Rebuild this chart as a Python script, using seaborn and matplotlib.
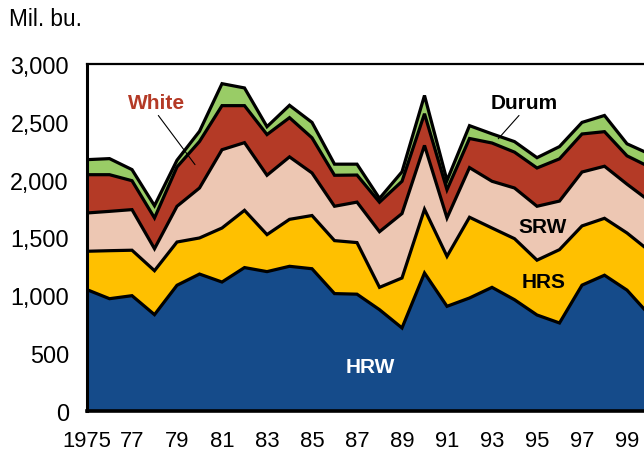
#!/usr/bin/env python3
"""Wheat production by class, stacked area"""

import numpy as np
import pandas as pd
import matplotlib
matplotlib.use('Agg')
import matplotlib.pyplot as plt
import seaborn as sns

# --------------------------------------------------
# data (million bushels)
years = list(range(1975, 2001))
hrw = [1049, 971, 997, 833, 1087, 1184, 1115, 1240, 1205, 1251, 1230, 1015, 1010,
       876, 718, 1193, 905, 977, 1069, 962, 830, 761, 1088, 1174, 1045, 830]
hrs = [332, 415, 393, 380, 374, 312, 467, 495, 320, 406, 460, 458, 446,
       193, 432, 551, 432, 698, 513, 528, 474, 634, 512, 492, 494, 553]
srw = [331, 340, 351, 190, 309, 432, 677, 585, 513, 540, 368, 297, 350,
       481, 557, 552, 332, 429, 404, 438, 466, 420, 466, 450, 422, 432]
white = [331, 317, 250, 266, 340, 402, 381, 320, 352, 339, 304, 268, 234,
         255, 279, 274, 244, 252, 331, 310, 331, 365, 329, 299, 245, 295]
durum = [130, 139, 96, 106, 58, 88, 190, 153, 68, 107, 133, 96, 94,
         33, 82, 158, 80, 111, 79, 91, 89, 106, 100, 140, 104, 112]

classes = ['HRW', 'HRS', 'SRW', 'White', 'Durum']
colors = ['#154B8A', '#FFC000', '#EDC7B3', '#B43A26', '#99CC66']

ytick_values = [0, 500, 1000, 1500, 2000, 2500, 3000]
ytick_labels = ['0', '500', '1,000', '1,500', '2,000', '2,500', '3,000']
xtick_years = list(range(1975, 2000))
xtick_labels = ['1975', '', '77', '', '79', '', '81', '', '83', '', '85', '', '87', '',
                '89', '', '91', '', '93', '', '95', '', '97', '', '99']


# --------------------------------------------------
def main():
    """Draw the chart"""

    df = pd.DataFrame({'year': years, 'HRW': hrw, 'HRS': hrs, 'SRW': srw,
                       'White': white, 'Durum': durum})
    cum = df[classes].cumsum(axis=1)
    cum['year'] = df['year']
    tops = cum.melt(id_vars='year', var_name='class', value_name='top')

    sns.set_style('white')
    plt.rcParams['font.family'] = ['Liberation Sans', 'DejaVu Sans']

    fig = plt.figure(figsize=(6.44, 4.52), dpi=100)
    ax = fig.add_axes([87 / 644, 40 / 452, 562.5 / 644, 347 / 452])

    # filled bands
    lower = np.zeros(len(years))
    for name, color in zip(classes, colors):
        upper = cum[name].to_numpy()
        ax.fill_between(df['year'], lower, upper, color=color, lw=0)
        lower = upper

    # black outlines on top of every band
    sns.lineplot(data=tops, x='year', y='top', hue='class',
                 palette={c: 'black' for c in classes}, legend=False,
                 lw=2.3, solid_joinstyle='miter', ax=ax)

    ax.set_xlim(1975, 2000)
    ax.set_ylim(0, 3000)
    ax.set_xlabel('')
    ax.set_ylabel('')
    ax.set_xticks(xtick_years)
    ax.set_xticklabels(xtick_labels)
    ax.set_yticks(ytick_values)
    ax.set_yticklabels(ytick_labels)
    ax.tick_params(axis='x', direction='out', length=8.5, width=1, pad=5,
                   labelsize=15.8, colors='black')
    ax.tick_params(axis='y', direction='in', length=7.5, width=1, pad=13,
                   labelsize=16.8, colors='black')

    ax.spines['right'].set_visible(False)
    for side, lw in [('top', 1.6), ('left', 2.2), ('bottom', 2.6)]:
        ax.spines[side].set_color('black')
        ax.spines[side].set_linewidth(lw)
        ax.spines[side].set_zorder(5)

    # band labels
    ax.text(1987.6, 385, 'HRW', color='white', fontsize=15, fontweight='bold',
            ha='center', va='center')
    ax.text(1995.3, 1120, 'HRS', color='black', fontsize=15, fontweight='bold',
            ha='center', va='center')
    ax.text(1995.25, 1595, 'SRW', color='black', fontsize=15, fontweight='bold',
            ha='center', va='center')
    ax.text(1994.45, 2663, 'Durum', color='black', fontsize=15, fontweight='bold',
            ha='center', va='center')
    ax.text(1978.1, 2663, 'White', color='#B43A26', fontsize=15, fontweight='bold',
            ha='center', va='center')

    # leader lines
    ax.plot([1978.17, 1979.8], [2555, 2130], color='black', lw=0.8)
    ax.plot([1994.2, 1993.28], [2555, 2354], color='black', lw=0.8)

    fig.text(9 / 644, 1 - 20 / 452, 'Mil. bu.', fontsize=16.3, ha='left',
             va='center', color='black')

    fig.savefig('out.png', dpi=100)


# --------------------------------------------------
if __name__ == '__main__':
    main()
